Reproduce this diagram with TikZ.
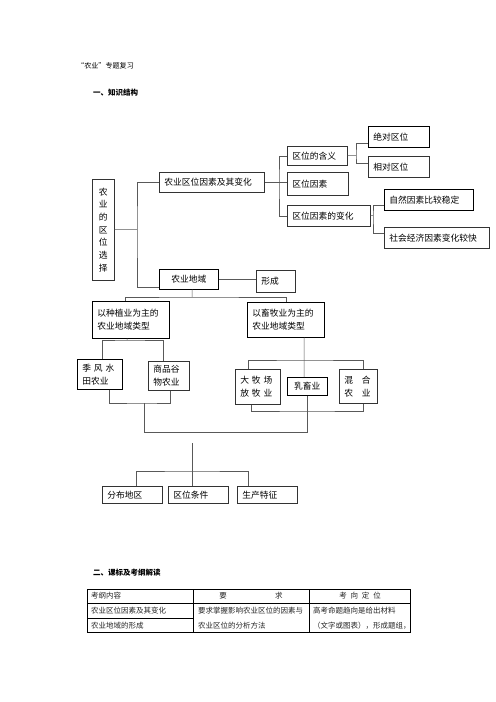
\documentclass[tikz,border=0pt]{standalone}
\usepackage{fontspec}
\setmainfont{Noto Sans CJK SC}
\begin{document}
\begin{tikzpicture}[
  x=1.2pt, y=-1.2pt,
  box/.style={draw=black!80, line width=0.6pt, anchor=north west, inner xsep=6pt, inner ysep=1pt,
    align=left, font={\fontsize{10.5pt}{15.6pt}\selectfont}},
  link/.style={draw=black!65, line width=0.6pt},
  title/.style={anchor=west, inner sep=0pt},
  cell/.style={anchor=west, inner sep=0pt, text=black!85, font={\fontsize{9pt}{11pt}\selectfont}}
]
  \useasboundingbox[fill=white] (0,0) rectangle (496,702);

  % headings
  \node[title, font={\fontsize{8.5pt}{10pt}\selectfont}] (head) at (77,66) {“农业”专题复习};
  \node[title, font={\fontsize{9pt}{10pt}\selectfont\bfseries}] (part1) at (93,93) {一、知识结构};

  % tree
  \node[box, align=center, minimum width=26.4pt, minimum height=121.2pt, inner xsep=1pt,
    font={\fontsize{10.5pt}{15.2pt}\selectfont}] (loc) at (92,179) {农\\业\\的\\区\\位\\选\\择};
  \node[box, text width=114pt, minimum height=24pt] (fac) at (159,172) {农业区位因素及其变化};
  \node[box, align=center, text width=58.8pt, minimum height=24pt, draw=black] (reg) at (159,269) {农业地域};
  \node[box, text width=34.8pt, minimum height=26.4pt] (form) at (256,270) {形成};

  \node[box, text width=60pt, minimum height=22.8pt] (mean) at (287,146) {区位的含义};
  \node[box, text width=61.2pt, minimum height=27.6pt] (rfac) at (287,172) {区位因素};
  \node[box, text width=87.6pt, minimum height=25.2pt] (chg) at (287,205) {区位因素的变化};
  \node[box, text width=61.2pt, minimum height=25.2pt, draw=black] (abs) at (368,126) {绝对区位};
  \node[box, text width=61.2pt, minimum height=25.2pt] (rel) at (368,156) {相对区位};
  \node[box, text width=94.8pt, minimum height=25.2pt, draw=black] (nat) at (384,189) {自然因素比较稳定};
  \node[box, text width=114pt, minimum height=25.2pt] (soc) at (384,227) {社会经济因素变化较快};

  \node[box, text width=80.4pt, minimum height=44.4pt, draw=black] (crop) at (92,301) {以种植业为主的\\农业地域类型};
  \node[box, text width=80.4pt, minimum height=42pt, draw=black] (live) at (247,302) {以畜牧业为主的\\农业地域类型};

  \node[box, text width=42pt, minimum height=36pt, draw=black] (rice) at (77,359) {季 风 水\\田农业};
  \node[box, text width=37.2pt, minimum height=34.8pt] (grain) at (148,361) {商品谷\\物农业};
  \node[box, text width=42pt, minimum height=42pt] (ranch) at (235,369) {大 牧 场\\放 牧 业};
  \node[box, align=center, text width=36pt, minimum height=21.6pt, draw=black] (dairy) at (287,377) {乳畜业};
  \node[box, text width=33.6pt, minimum height=40.8pt, inner xsep=6pt] (mix) at (339,369) {混　合\\农　业};

  \node[box, text width=60pt, minimum height=20.4pt] (dist) at (102,486) {分布地区};
  \node[box, text width=60pt, minimum height=20.4pt] (cond) at (168,486) {区位条件};
  \node[box, text width=60pt, minimum height=20.4pt] (feat) at (237,486) {生产特征};

  % junctions
  \coordinate (j1) at (137,229.5);
  \coordinate (j2) at (279,182);
  \coordinate (j3) at (356,155.5);
  \coordinate (j4) at (373,215.5);
  \coordinate (j5) at (192,297);
  \coordinate (j6) at (127,340);
  \coordinate (j7) at (144,403);
  \coordinate (j8) at (144,432);
  \coordinate (j9) at (304,360);
  \coordinate (j10) at (307,411);
  \coordinate (j11) at (192,443);
  \coordinate (j12) at (192,471);

  % connectors
  \draw[link] (loc.east) -- (j1);
  \draw[link] (fac.west) -| (j1) |- ([yshift=2.4pt]reg.south west);
  \draw[link] (fac.east) -- (fac.east -| rfac.west);
  \draw[link] (mean.west) -| (j2) |- (chg.west);
  \draw[link] (mean.east) -- (j3);
  \draw[link] ([yshift=-7.8pt]abs.west) -| (j3) |- ([yshift=4.2pt]rel.west);
  \draw[link] (chg.east) -- (j4);
  \draw[link] ([yshift=-6.6pt]nat.west) -| (j4) |- ([yshift=5.4pt]soc.west);
  \draw[link] (reg.east) -- (reg.east -| form.west);

  \draw[link] ([xshift=4.2pt]reg.south) -- (j5);
  \draw[link] ([xshift=-6.6pt]crop.north) |- (j5) -| (live.north);
  \draw[link] ([xshift=-4.2pt]crop.south) -- (j6);
  \draw[link] ([xshift=3pt]rice.north) |- (j6) -| ([xshift=-6.6pt]grain.north);
  \draw[link] ([xshift=11.4pt]rice.south) |- (j7) -| ([xshift=1.8pt]grain.south);
  \draw[link] (j7) -- (j8) -| (dairy.south);

  \draw[link] ([xshift=22.2pt]live.south) -- (j9) -- (j9 |- dairy.north);
  \draw[link] ([xshift=-11.4pt]ranch.north) |- (j9) -| ([xshift=6pt]mix.north);
  \draw[link] ([xshift=-7.8pt]ranch.south) |- (j10) -| ([xshift=6pt]mix.south);

  \draw[link] (j11) -- (j11 |- cond.north);
  \draw[link] ([xshift=4.8pt]dist.north) |- (j12) -| ([xshift=-22.8pt]feat.north);

  % second part
  \node[title, font={\fontsize{9pt}{10pt}\selectfont\bfseries}] (part2) at (93,573) {二、课标及考纲解读};
  \draw[line width=0.8pt] (87,589) rectangle (410,632);
  \draw[line width=0.8pt] (193,589) -- (193,632) (309,589) -- (309,632)
    (87,603) -- (410,603) (87,618) -- (193,618);
  \node[cell] (c11) at (91,596) {考纲内容};
  \node[cell, anchor=center] (c12) at (251,596) {要\hspace{58pt}求};
  \node[cell, anchor=center] (c13) at (360,596) {考\hspace{4.6pt}向\hspace{4.6pt}定\hspace{4.6pt}位};
  \node[cell] (c21) at (91,611) {农业区位因素及其变化};
  \node[cell] (c31) at (91,625.5) {农业地域的形成};
  \node[cell] (c22) at (198,611) {要求掌握影响农业区位的因素与};
  \node[cell] (c32) at (198,625.5) {农业区位的分析方法};
  \node[cell] (c23) at (313,611) {高考命题趋向是给出材料};
  \node[cell] (c33) at (313,625.5) {（文字或图表），形成题组，};
\end{tikzpicture}
\end{document}
